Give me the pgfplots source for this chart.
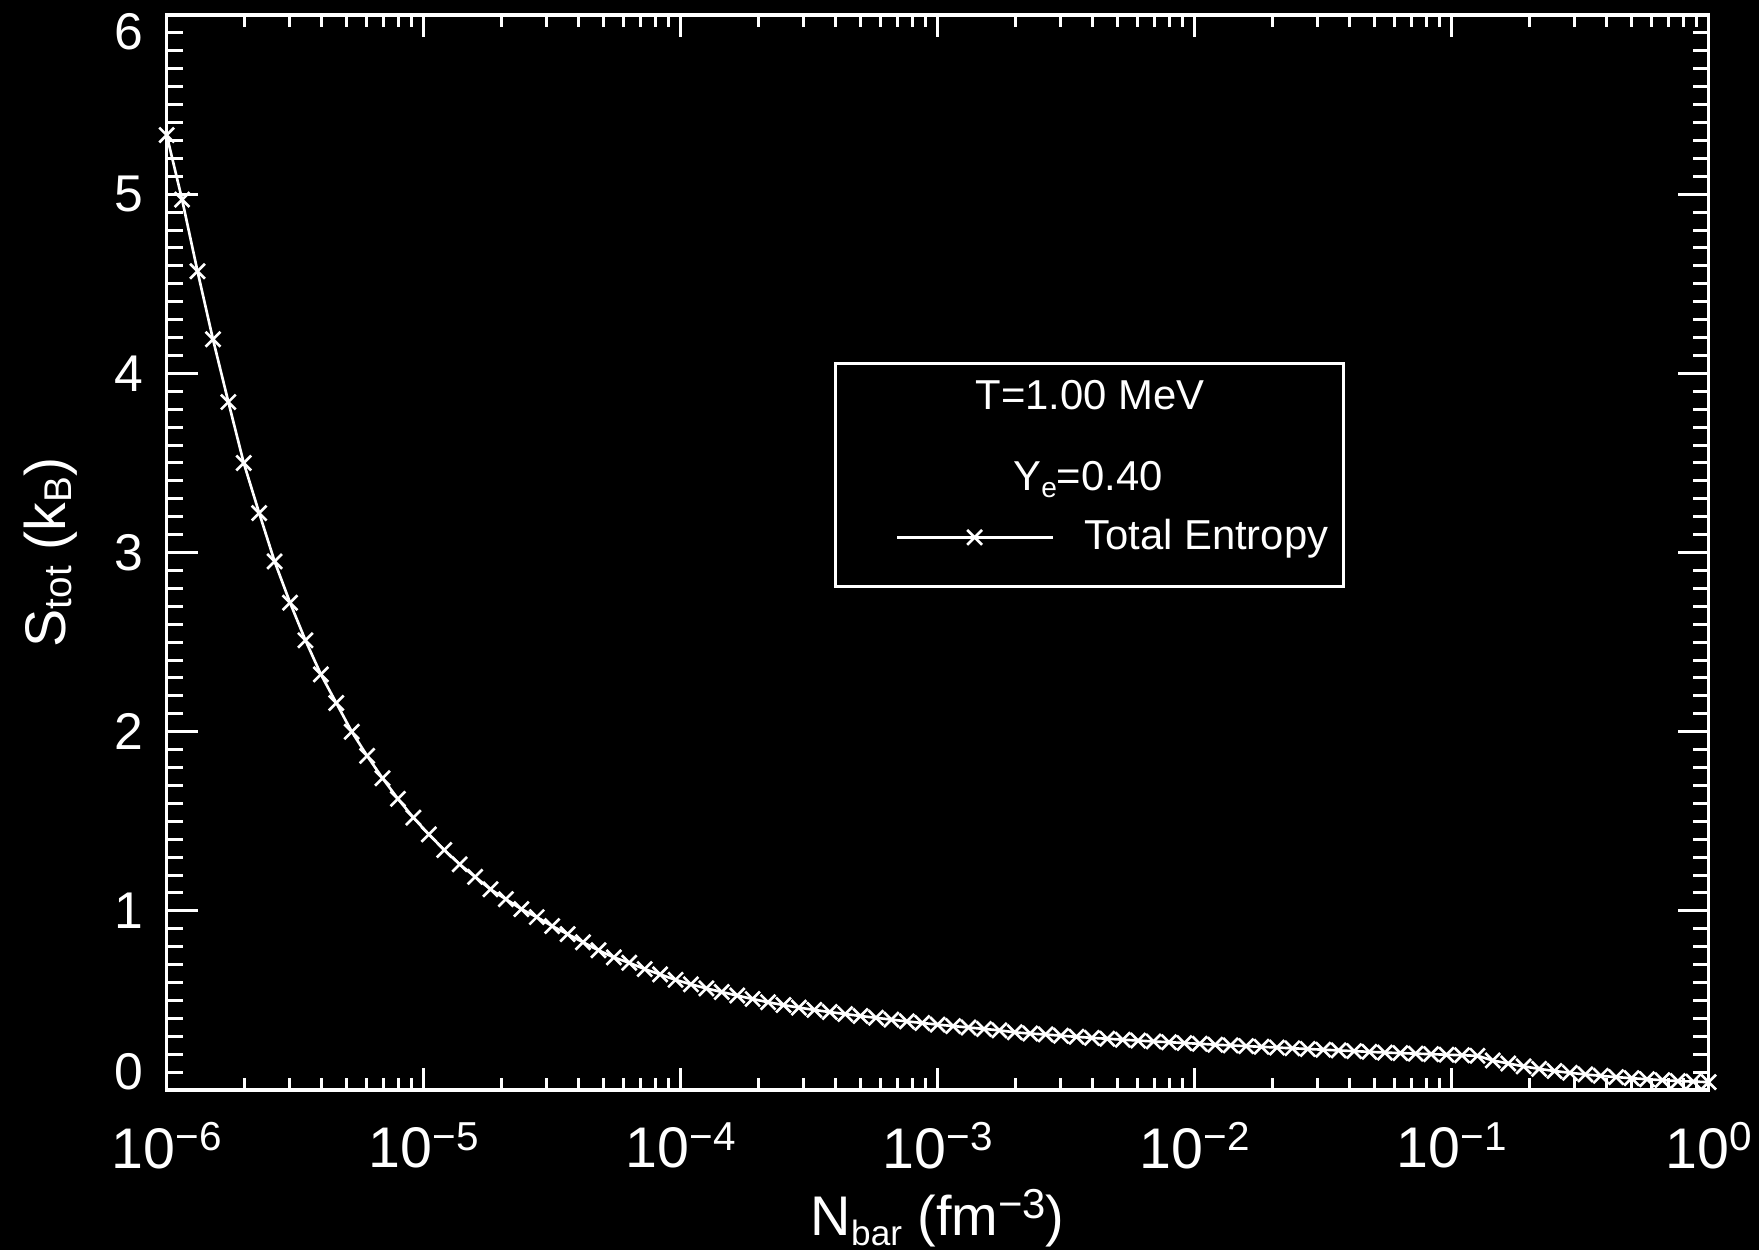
\documentclass[border=0pt]{standalone}
\usepackage{fontspec}
\setmainfont{Liberation Sans}
\usepackage{pgfplots}
\pgfplotsset{compat=1.18}
\usetikzlibrary{backgrounds}

% 10^{n} tick label in text font
\newcommand{\tk}[1]{10\raisebox{0.173cm}{\fontsize{11.5}{12}\selectfont #1}}

\pgfplotstableread{
x          s
1.000e-6   5.33
1.148e-6   4.97
1.318e-6   4.57
1.514e-6   4.19
1.738e-6   3.84
1.995e-6   3.50
2.291e-6   3.22
2.630e-6   2.95
3.020e-6   2.72
3.467e-6   2.51
3.981e-6   2.32
4.571e-6   2.16
5.248e-6   2.00
6.026e-6   1.865
6.918e-6   1.74
7.943e-6   1.625
9.120e-6   1.52
1.047e-5   1.427
1.202e-5   1.34
1.380e-5   1.26
1.585e-5   1.19
1.820e-5   1.12
2.089e-5   1.065
2.399e-5   1.01
2.754e-5   0.965
3.162e-5   0.915
3.631e-5   0.87
4.169e-5   0.825
4.786e-5   0.78
5.495e-5   0.74
6.310e-5   0.71
7.244e-5   0.675
8.318e-5   0.645
9.550e-5   0.615
1.096e-4   0.59
1.259e-4   0.567
1.445e-4   0.547
1.660e-4   0.527
1.905e-4   0.508
2.188e-4   0.49
2.512e-4   0.474
2.884e-4   0.46
3.311e-4   0.447
3.802e-4   0.435
4.365e-4   0.424
5.012e-4   0.413
5.754e-4   0.403
6.607e-4   0.393
7.586e-4   0.383
8.710e-4   0.374
1.000e-3   0.365
1.148e-3   0.357
1.318e-3   0.349
1.514e-3   0.341
1.738e-3   0.333
1.995e-3   0.322
2.291e-3   0.315
2.630e-3   0.31
3.020e-3   0.303
3.467e-3   0.297
3.981e-3   0.291
4.571e-3   0.286
5.248e-3   0.281
6.026e-3   0.276
6.918e-3   0.271
7.943e-3   0.267
9.120e-3   0.262
1.047e-2   0.258
1.202e-2   0.253
1.380e-2   0.249
1.585e-2   0.245
1.820e-2   0.241
2.089e-2   0.237
2.399e-2   0.233
2.754e-2   0.229
3.162e-2   0.225
3.631e-2   0.221
4.169e-2   0.217
4.786e-2   0.213
5.495e-2   0.209
6.310e-2   0.206
7.244e-2   0.203
8.318e-2   0.200
9.550e-2   0.197
0.1096     0.194
0.1259     0.191
0.1445     0.165
0.1660     0.148
0.1905     0.132
0.2188     0.118
0.2512     0.106
0.2884     0.096
0.3311     0.087
0.3802     0.079
0.4365     0.072
0.5012     0.066
0.5754     0.060
0.6607     0.055
0.7586     0.050
0.8710     0.047
1.000      0.044
}\entropy

\begin{document}
\begin{tikzpicture}
\begin{axis}[
    scale only axis,
    width=15.42cm, height=10.75cm,
    xmode=log,
    xmin=1e-6, xmax=1,
    ymin=0, ymax=6,
    xtick={1e-6,1e-5,1e-4,1e-3,1e-2,1e-1,1},
    xticklabels={\tk{−6},\tk{−5},\tk{−4},\tk{−3},\tk{−2},\tk{−1},\tk{0}},
    ytick={0,1,2,3,4,5,6},
    yticklabels={\raisebox{0.18cm}[\height][\depth]{0},1,2,3,4,5,\raisebox{-0.17cm}[\height][\depth]{6}},
    minor y tick num=9,
    axis line style={white, line width=0.9pt},
    tick style={white, line width=0.85pt},
    xtick style={/pgfplots/major tick length=0.22cm, /pgfplots/minor tick length=0.12cm},
    ytick style={/pgfplots/major tick length=0.31cm, /pgfplots/minor tick length=0.16cm},
    xticklabel style={text=white, font=\fontsize{16.3}{18}\selectfont, anchor=north, inner sep=0pt, yshift=-0.32cm},
    yticklabel style={text=white, font=\fontsize{14.7}{16}\selectfont, anchor=east, inner sep=0pt, xshift=-0.23cm},
    xlabel={N\raisebox{-0.10cm}{\fontsize{10}{11}\selectfont bar} (fm\raisebox{0.17cm}{\fontsize{11.9}{13}\selectfont −3})},
    xlabel style={text=white, font=\fontsize{15.9}{18}\selectfont, at={(axis description cs:0.5,-0.1349)}, anchor=base},
    ylabel={S\raisebox{-0.06cm}{\fontsize{11}{12}\selectfont tot} (k\raisebox{-0.06cm}{\fontsize{11}{12}\selectfont B})},
    ylabel style={text=white, font=\fontsize{16.3}{18}\selectfont, at={(axis description cs:-0.0653,0.5)}, anchor=base},
    title={Total Entropy},
    title style={text=white, font=\fontsize{16.3}{18}\selectfont, at={(axis description cs:0.5,1.0186)}, anchor=base},
    legend style={draw=none, fill=none, text=white, font=\fontsize{11.9}{13}\selectfont,
        at={(rel axis cs:0.4726,0.5141)}, anchor=west, inner sep=0pt, column sep=0.30cm,
        nodes={inner sep=0pt}},
    legend image code/.code={\draw[mark repeat=2,mark phase=2,#1] plot coordinates {(0cm,0cm) (0.772cm,0cm) (1.554cm,0cm)};},
]
\addplot[white, line width=0.75pt, mark=x, mark size=0.105cm, mark options={solid, line width=0.75pt}]
    table[x=x, y=s] {\entropy};
\addlegendentry{Total Entropy}

\coordinate (O) at (rel axis cs:0,0);
\draw[white, line width=0.85pt] (rel axis cs:0.4339,0.4688) rectangle (rel axis cs:0.7633,0.6760);
\node[text=white, font=\fontsize{11.9}{13}\selectfont, anchor=base, inner sep=0pt]
    at (rel axis cs:0.5988,0.6326) {T=1.00 MeV};
\node[text=white, font=\fontsize{11.9}{13}\selectfont, anchor=base, inner sep=0pt]
    at (rel axis cs:0.5975,0.5581) {Y\raisebox{-0.07cm}{\fontsize{8}{9}\selectfont e}=0.40};
\end{axis}

\begin{scope}[on background layer]
\fill[black] ([shift={(-1.667cm,-1.60cm)}]O) rectangle ([shift={(15.923cm,10.90cm)}]O);
\end{scope}
\pgfresetboundingbox
\path[use as bounding box] ([shift={(-1.667cm,-1.60cm)}]O) rectangle ([shift={(15.923cm,10.90cm)}]O);
\end{tikzpicture}
\end{document}
